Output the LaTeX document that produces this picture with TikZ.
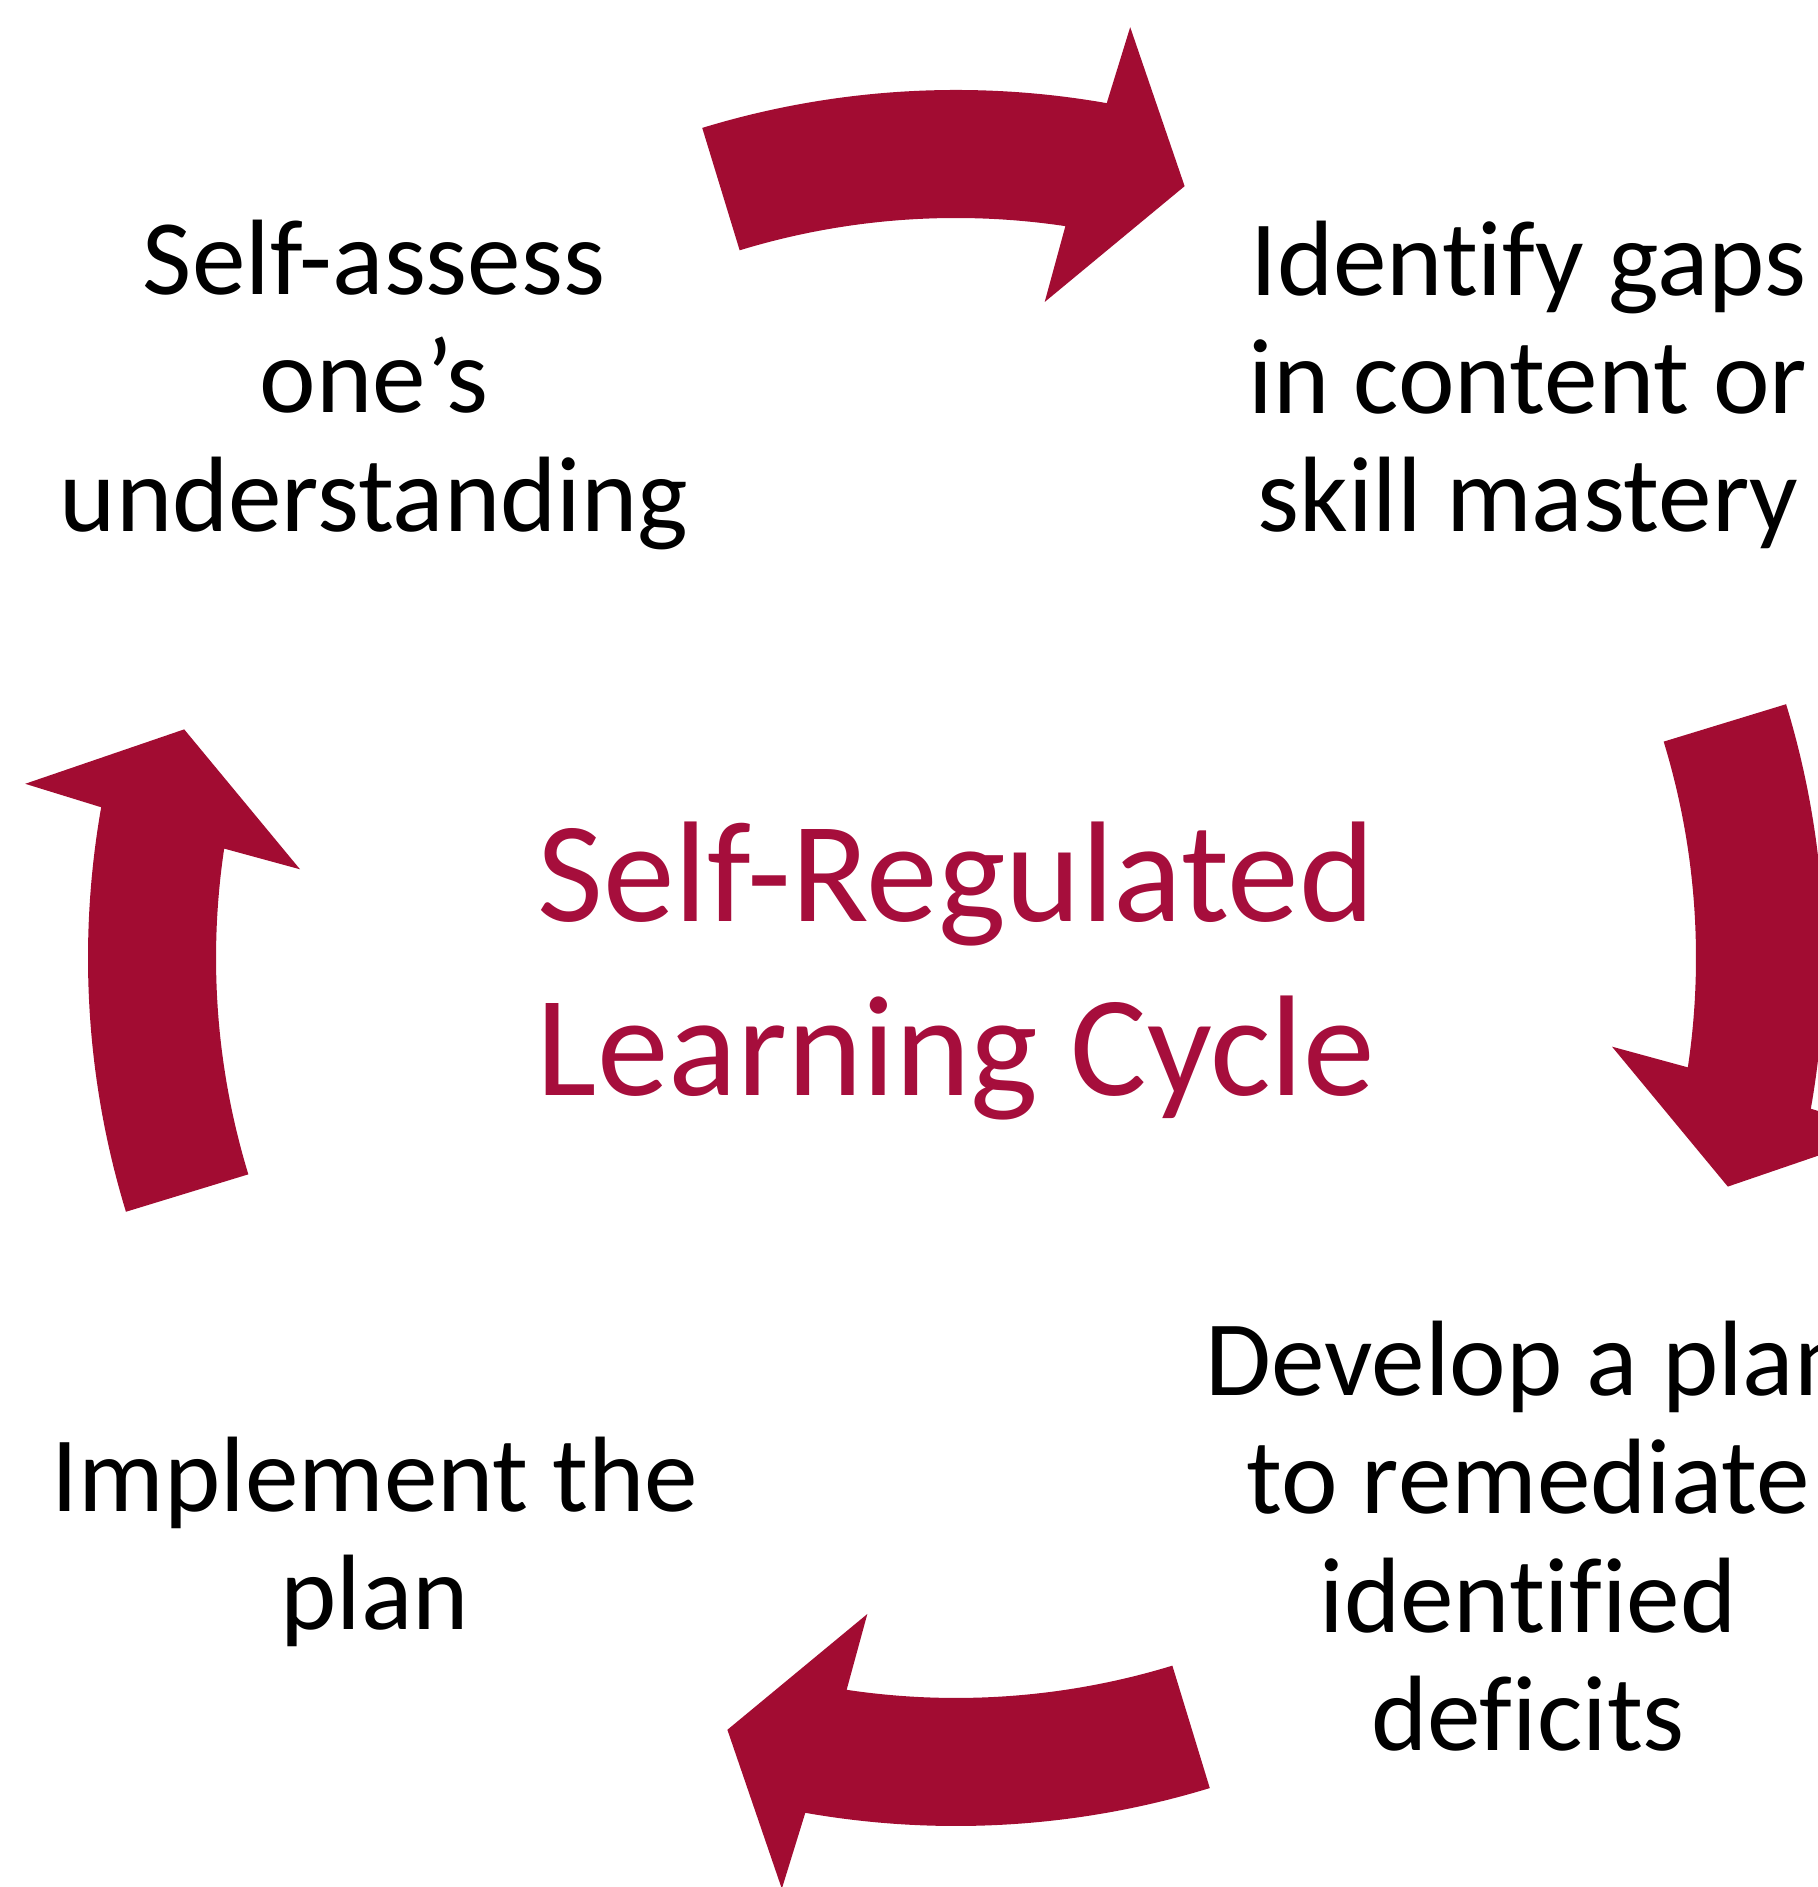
\documentclass[tikz,border=0pt]{standalone}
\usepackage{fontspec}
\setmainfont{Carlito}[Ligatures=CommonOff]

\definecolor{srlred}{RGB}{162,12,50}
\definecolor{srltitle}{RGB}{166,14,60}

\tikzset{
  stagetext/.style={align=center, inner sep=0pt, font=\fontsize{30.5}{33.7}\selectfont},
  titletext/.style={align=center, inner sep=0pt, text=srltitle, font=\fontsize{40.8}{49.5}\selectfont},
  cycle arrow/.pic={
    \fill[srlred] (107:74mm) arc[start angle=107, end angle=81.5, radius=74mm]
      -- (82.3:66.2mm) -- (73.5:80.5mm) -- (79.4:94.7mm) -- (80:86.8mm)
      arc[start angle=80, end angle=107, radius=86.8mm] -- cycle;
  }
}

\begin{document}
\begin{tikzpicture}[x=0.1mm, y=0.1mm]
\useasboundingbox (0,0) rectangle (1818,1887);
\clip (0,0) rectangle (1818,1887);

% centre of the cycle
\coordinate (hub) at (956,929);

% the four curved arrows
\pic at (hub) {cycle arrow};
\pic[rotate=-90] at (hub) {cycle arrow};
\pic[rotate=-180] at (hub) {cycle arrow};
\pic[rotate=-270] at (hub) {cycle arrow};

\node[titletext] (title) at (956,916) {Self-Regulated\\Learning Cycle};

% the four stages
\node[stagetext] (assess) at (374,1502) {Self-assess\\one’s\\understanding};
\node[stagetext] (gaps) at (1528,1502) {Identify gaps\\in content or\\skill mastery};
\node[stagetext] (plan) at (1528,351) {Develop a plan\\to remediate\\identified\\deficits};
\node[stagetext] (implement) at (375,345) {Implement the\\plan};
\end{tikzpicture}
\end{document}
